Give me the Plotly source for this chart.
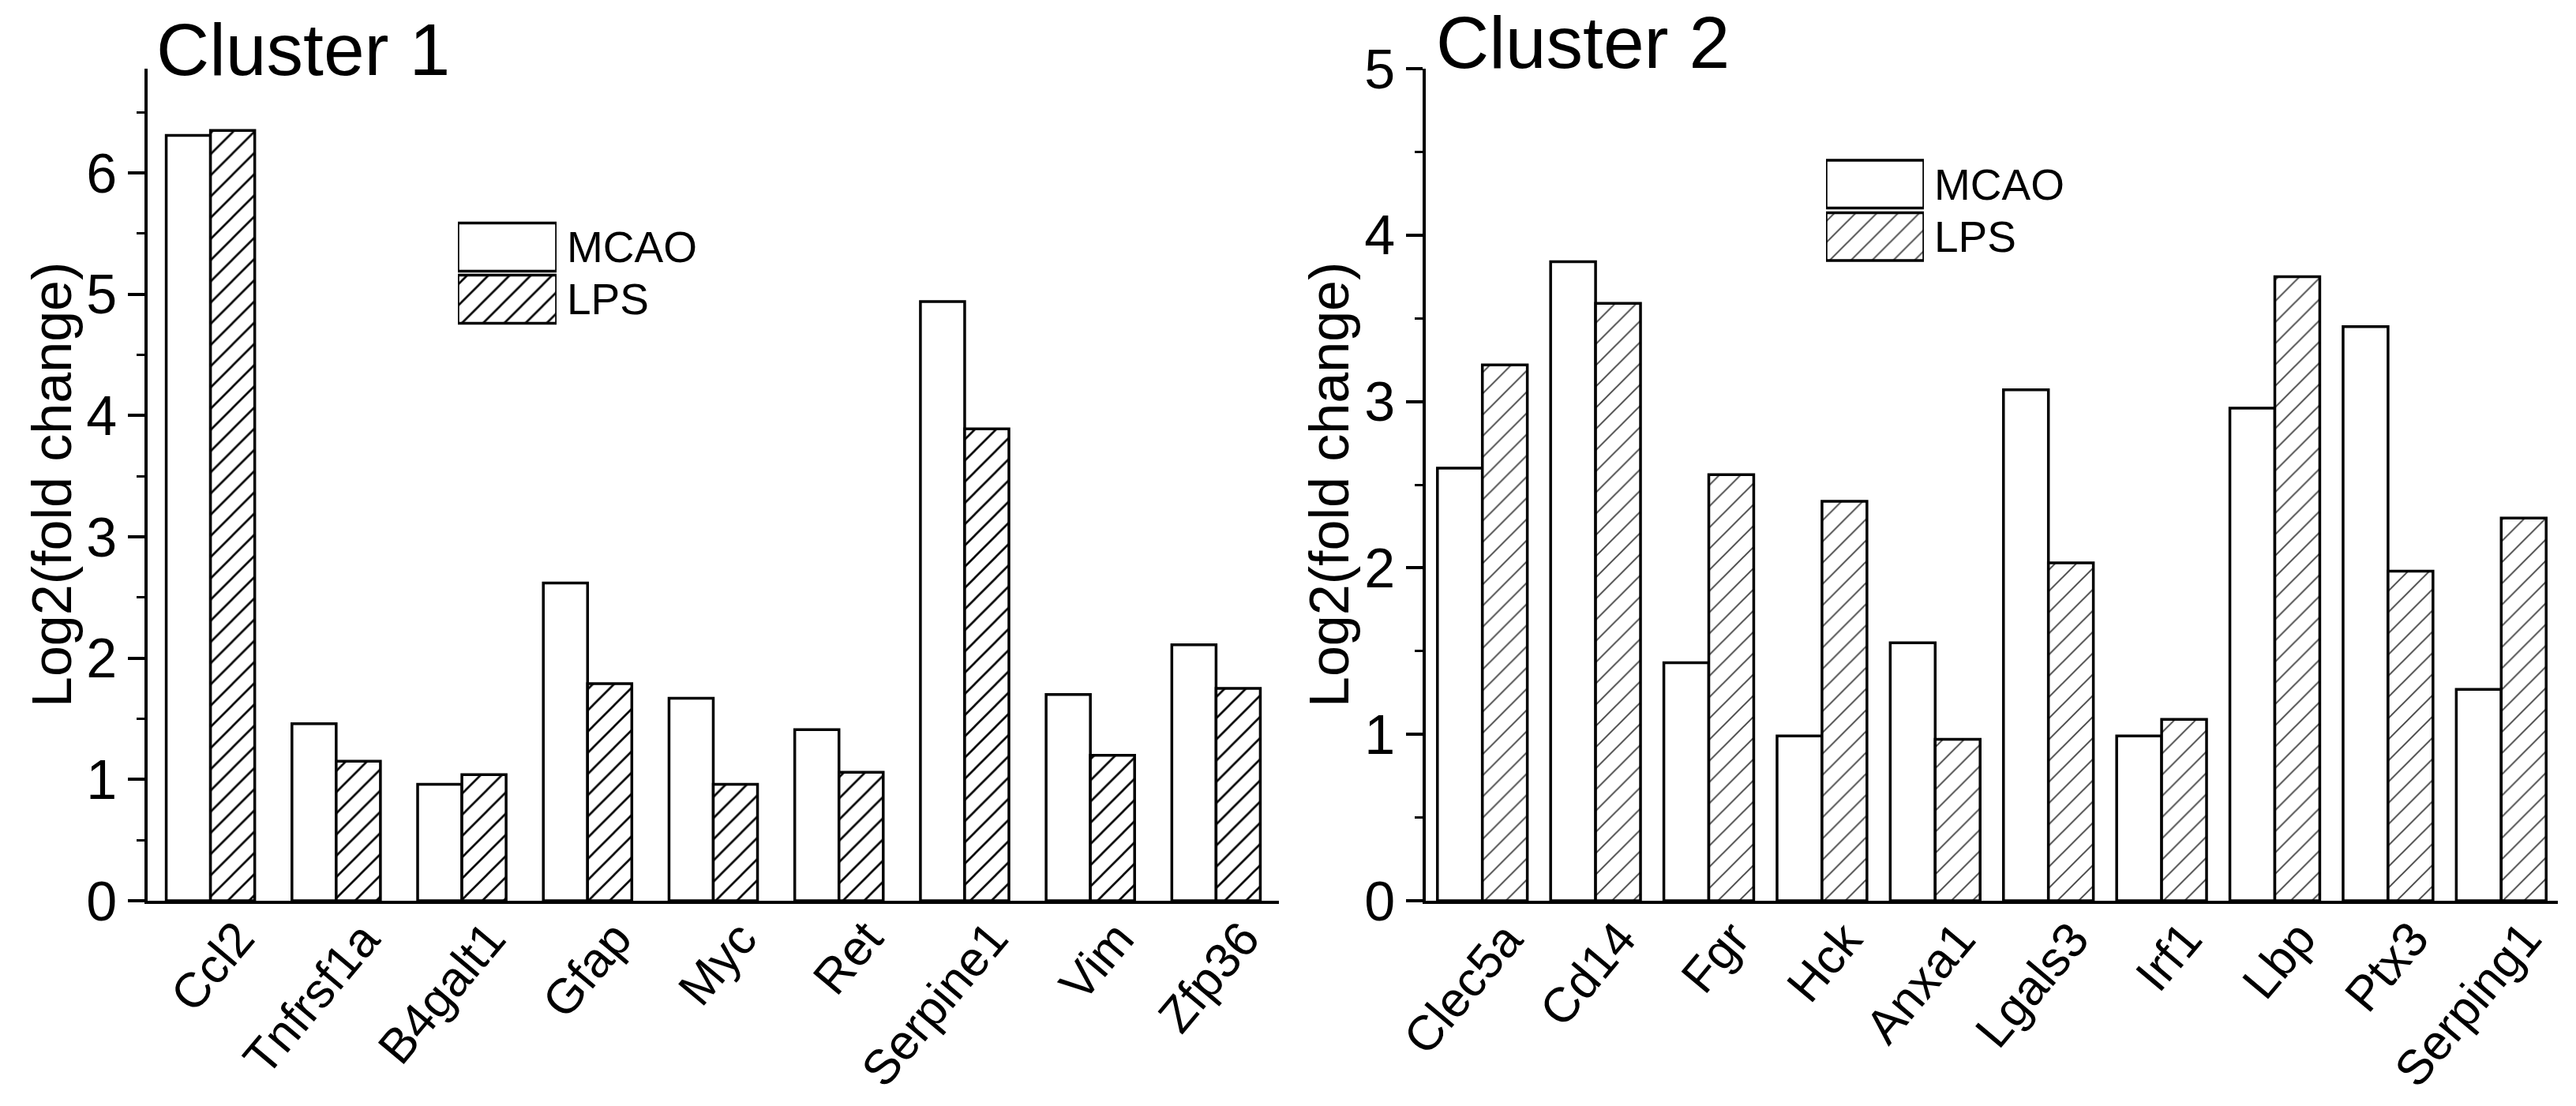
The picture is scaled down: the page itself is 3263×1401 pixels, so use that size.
import plotly.graph_objects as go

W, H = 3263, 1401
FONT = "Liberation Sans, Arial, sans-serif"

# ---------------- data ----------------
cats1 = ["Ccl2", "Tnfrsf1a", "B4galt1", "Gfap", "Myc", "Ret", "Serpine1", "Vim", "Zfp36"]
mcao1 = [6.31, 1.46, 0.96, 2.62, 1.67, 1.41, 4.94, 1.70, 2.11]
lps1 = [6.35, 1.15, 1.04, 1.79, 0.96, 1.06, 3.89, 1.20, 1.75]

cats2 = ["Clec5a", "Cd14", "Fgr", "Hck", "Anxa1", "Lgals3", "Irf1", "Lbp", "Ptx3", "Serping1"]
mcao2 = [2.60, 3.84, 1.43, 0.99, 1.55, 3.07, 0.99, 2.96, 3.45, 1.27]
lps2 = [3.22, 3.59, 2.56, 2.40, 0.97, 2.03, 1.09, 3.75, 1.98, 2.30]

series_names = ["MCAO", "LPS"]
legend_vals = [1, 1]
panel_titles = ["Cluster 1", "Cluster 2"]
y_title = "Log2(fold change)"

# ---------------- helpers ----------------
def px_x(p):
    return p / W

def px_y(p):
    return (H - p) / H

OUT = dict(color="black", width=3.5)

fig = go.Figure()

def add_panel(cats, m, l, xa, ya, w, hatch_color, solidity):
    fig.add_trace(go.Bar(
        x=cats, y=m, xaxis=xa, yaxis=ya, width=w, offset=-w, name=series_names[0],
        marker=dict(color="white", line=OUT), showlegend=False))
    fig.add_trace(go.Bar(
        x=cats, y=l, xaxis=xa, yaxis=ya, width=w, offset=0, name=series_names[1],
        marker=dict(color="white", line=OUT,
                    pattern=dict(shape="/", fgcolor=hatch_color, bgcolor="white",
                                 size=19, solidity=solidity)),
        showlegend=False))

add_panel(cats1, mcao1, lps1, "x", "y", 0.352, "black", 0.14)
add_panel(cats2, mcao2, lps2, "x2", "y2", 0.397, "#444444", 0.10)

# legend swatches (drawn as bars on small hidden axes)
def add_legend(xa, ya, w, hatch_color, solidity):
    fig.add_trace(go.Bar(
        y=series_names, x=legend_vals, orientation="h", xaxis=xa, yaxis=ya, width=w,
        marker=dict(color="white", line=OUT,
                    pattern=dict(shape=["", "/"], fgcolor=hatch_color, bgcolor="white",
                                 size=19, solidity=solidity)),
        showlegend=False, hoverinfo="skip"))

add_legend("x3", "y3", 0.924, "black", 0.14)
add_legend("x4", "y4", 0.91, "#444444", 0.10)

ydom = [px_y(1141), px_y(87)]

xbase = dict(type="category", showline=True, linecolor="black", linewidth=3.5,
             ticks="", showticklabels=False,
             showgrid=False, zeroline=False, automargin=False, fixedrange=True)
ybase = dict(showline=True, linecolor="black", linewidth=3.5, ticks="outside",
             ticklen=21, tickwidth=3.5, tickcolor="black", dtick=1, tick0=0,
             minor=dict(dtick=0.5, ticks="outside", ticklen=10, tickwidth=3, tickcolor="black"),
             tickfont=dict(family=FONT, size=70, color="black"),
             showgrid=False, zeroline=False, automargin=False, fixedrange=True)

legx = dict(range=[0, 1], visible=False, fixedrange=True)
legy = dict(type="category", range=[1.5, -0.5], side="right", showline=False, ticks="",
            showgrid=False, zeroline=False, automargin=False, fixedrange=True,
            tickfont=dict(family=FONT, size=55, color="black"), ticklabelstandoff=12)

annotations = [
    dict(text=panel_titles[0], xref="paper", yref="paper", x=px_x(196), y=px_y(63),
         xanchor="left", yanchor="middle", showarrow=False,
         font=dict(family=FONT, size=93, color="black")),
    dict(text=panel_titles[1], xref="paper", yref="paper", x=px_x(1817), y=px_y(54),
         xanchor="left", yanchor="middle", showarrow=False,
         font=dict(family=FONT, size=93, color="black")),
    dict(text=y_title, xref="paper", yref="paper", x=px_x(66), y=px_y(614),
         xanchor="center", yanchor="middle", textangle=-90, showarrow=False,
         font=dict(family=FONT, size=70, color="black")),
    dict(text=y_title, xref="paper", yref="paper", x=px_x(1684), y=px_y(614),
         xanchor="center", yanchor="middle", textangle=-90, showarrow=False,
         font=dict(family=FONT, size=70, color="black")),
]

# rotated category labels
for cats, xr, shift in [(cats1, "x", 71), (cats2, "x2", 67)]:
    for c in cats:
        annotations.append(dict(
            text=c, xref=xr, yref="paper", x=c, y=px_y(1152), xshift=shift,
            xanchor="right", yanchor="top", textangle=-50, showarrow=False,
            font=dict(family=FONT, size=62, color="black")))

fig.update_layout(
    width=W, height=H, autosize=False,
    margin=dict(l=0, r=0, t=0, b=0, pad=0),
    paper_bgcolor="white", plot_bgcolor="rgba(0,0,0,0)",
    barmode="overlay", template="none",
    font=dict(family=FONT, color="black"),
    xaxis=dict(xbase, domain=[px_x(187), px_x(1620)], anchor="y", range=[-0.5, 8.5],
               categoryorder="array", categoryarray=cats1),
    yaxis=dict(ybase, domain=ydom, anchor="x", range=[0, 6.86]),
    xaxis2=dict(xbase, domain=[px_x(1806), px_x(3240)], anchor="y2", range=[-0.5, 9.5],
                categoryorder="array", categoryarray=cats2),
    yaxis2=dict(ybase, domain=ydom, anchor="x2", range=[0, 5]),
    xaxis3=dict(legx, domain=[px_x(580), px_x(705)], anchor="y3"),
    yaxis3=dict(legy, domain=[px_y(412), px_y(280)], anchor="x3"),
    xaxis4=dict(legx, domain=[px_x(2313), px_x(2437)], anchor="y4"),
    yaxis4=dict(legy, domain=[px_y(333), px_y(200)], anchor="x4"),
    annotations=annotations,
)

fig.write_html("out.html", config={"displayModeBar": False},
               post_script="document.body.style.margin='0';document.body.style.overflow='hidden';")
